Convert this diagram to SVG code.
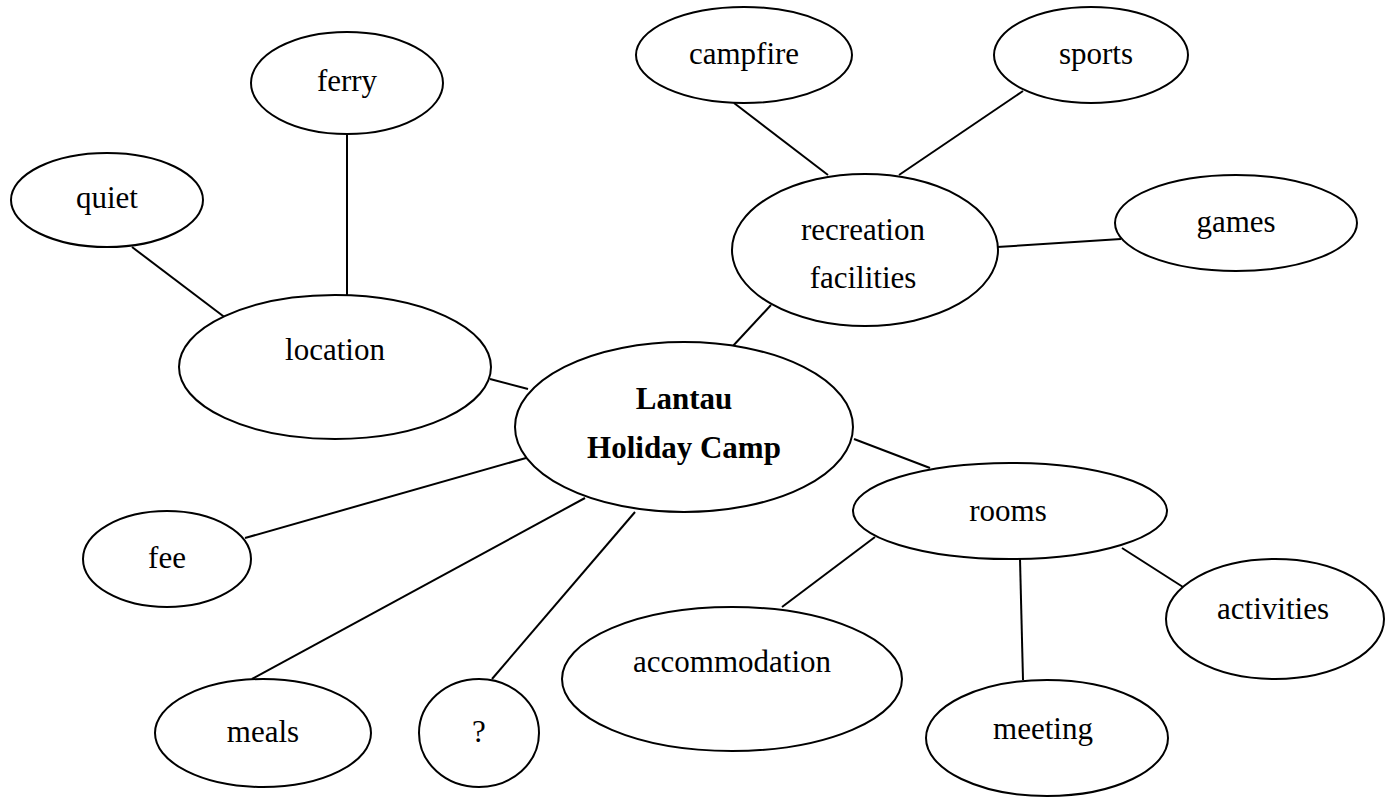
<svg xmlns="http://www.w3.org/2000/svg" width="1386" height="798" viewBox="0 0 1386 798">
<style>
.n ellipse{fill:#fff;stroke:#000;stroke-width:2}
.c line{stroke:#000;stroke-width:2}
text{font-family:'Liberation Serif','DejaVu Serif',serif;font-size:31px;fill:#000;text-anchor:middle}
.b{font-weight:bold}
</style>
<rect width="1386" height="798" fill="#fff"/>
<g id="connectors" class="c">
<line x1="347" y1="134" x2="347" y2="295"/>
<line x1="132" y1="247" x2="227" y2="319"/>
<line x1="490" y1="379" x2="528" y2="389"/>
<line x1="734" y1="103" x2="828" y2="175"/>
<line x1="1023" y1="91" x2="899" y2="175"/>
<line x1="997" y1="247" x2="1121" y2="239"/>
<line x1="771" y1="305" x2="732" y2="347"/>
<line x1="854" y1="439" x2="930" y2="468"/>
<line x1="875" y1="537" x2="782" y2="607"/>
<line x1="1020" y1="559" x2="1023" y2="680"/>
<line x1="1122" y1="548" x2="1183" y2="587"/>
<line x1="245" y1="538" x2="526" y2="458"/>
<line x1="252" y1="679" x2="585" y2="498"/>
<line x1="492" y1="679" x2="635" y2="512"/>
</g>
<g id="ferry" class="n"><ellipse cx="347" cy="83" rx="96" ry="51"/><text x="347" y="91">ferry</text></g>
<g id="quiet" class="n"><ellipse cx="107" cy="200" rx="96" ry="47"/><text x="107" y="208">quiet</text></g>
<g id="location" class="n"><ellipse cx="335" cy="367" rx="156" ry="72"/><text x="335" y="360">location</text></g>
<g id="center" class="n"><ellipse cx="684" cy="427" rx="169" ry="85"/><text class="b" x="684" y="409">Lantau</text><text class="b" x="684" y="458">Holiday Camp</text></g>
<g id="campfire" class="n"><ellipse cx="744" cy="55" rx="108" ry="48"/><text x="744" y="64">campfire</text></g>
<g id="sports" class="n"><ellipse cx="1091" cy="55" rx="97" ry="48"/><text x="1096" y="64">sports</text></g>
<g id="recreation" class="n"><ellipse cx="865" cy="250" rx="133" ry="76"/><text x="863" y="240">recreation</text><text x="863" y="288">facilities</text></g>
<g id="games" class="n"><ellipse cx="1236" cy="223" rx="121" ry="48"/><text x="1236" y="232">games</text></g>
<g id="rooms" class="n"><ellipse cx="1010" cy="511" rx="157" ry="48"/><text x="1008" y="521">rooms</text></g>
<g id="activities" class="n"><ellipse cx="1275" cy="619" rx="109" ry="60"/><text x="1273" y="619">activities</text></g>
<g id="accommodation" class="n"><ellipse cx="732" cy="679" rx="170" ry="72"/><text x="732" y="672">accommodation</text></g>
<g id="meeting" class="n"><ellipse cx="1047" cy="738" rx="121" ry="58"/><text x="1043" y="739">meeting</text></g>
<g id="fee" class="n"><ellipse cx="167" cy="559" rx="84" ry="48"/><text x="167" y="568">fee</text></g>
<g id="meals" class="n"><ellipse cx="263" cy="733" rx="108" ry="54"/><text x="263" y="742">meals</text></g>
<g id="question" class="n"><ellipse cx="479" cy="733" rx="60" ry="54"/><text x="479" y="742">?</text></g>
</svg>
